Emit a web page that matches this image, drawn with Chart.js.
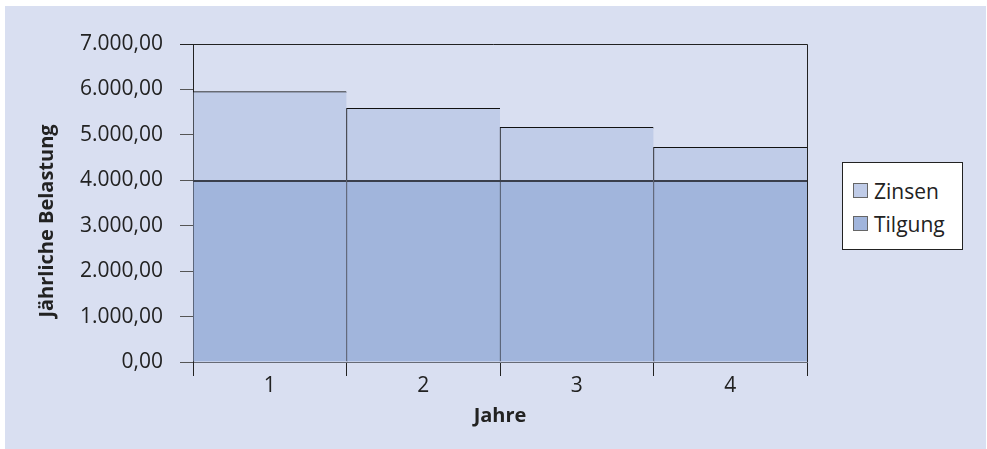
<!DOCTYPE html>
<html lang="de">
<head>
<meta charset="utf-8">
<title>Jährliche Belastung</title>
<script src="https://cdn.jsdelivr.net/npm/chart.js@4/dist/chart.umd.min.js"></script>
<style>
  html, body { margin: 0; padding: 0; background: #ffffff; }
  #wrap { position: relative; width: 987px; height: 449px; overflow: hidden; }
  #panel { position: absolute; left: 5px; top: 6px; width: 981px; height: 443px; background: #d9dff1; }
  #chart { position: absolute; left: 0; top: 0; }
  #legend {
    position: absolute; left: 842px; top: 162px; width: 121px; height: 88px;
    background: #ffffff; border: 1px solid #222; box-sizing: border-box;
    font-family: "Open Sans", sans-serif; font-size: 21px; color: #222;
    padding-top: 11px;
  }
  .item { display: flex; align-items: center; height: 33px; padding-left: 10px; }
  .swatch { width: 15px; height: 15px; border: 1px solid #666; box-sizing: border-box; margin-right: 6px; }
</style>
</head>
<body>
<div id="wrap">
  <div id="panel"></div>
  <canvas id="chart" width="987" height="449"></canvas>
  <div id="legend"></div>
</div>
<script>
// Jahre (Kategorien)
const years = ['1', '2', '3', '4'];
// Tilgung je Jahr
const tilgung = [4000, 4000, 4000, 4000];
// Zinsen je Jahr
const zinsen = [1950, 1585, 1165, 725];
// Achsenbereich
const yTicks = [0, 1000, 2000, 3000, 4000, 5000, 6000, 7000];
const yTitle = 'Jährliche Belastung';

const colTilgung = '#a1b5dc';
const colZinsen = '#c0cce8';
const ink = '#222222';

function formatDe(v) {
  const fixed = Math.abs(v).toFixed(2);
  let [intPart, dec] = fixed.split('.');
  intPart = intPart.replace(/\B(?=(\d{3})+(?!\d))/g, '.');
  return (v < 0 ? '-' : '') + intPart + ',' + dec;
}

// Rahmen oben und rechts um die Zeichenfläche, dazu der senkrechte Achsentitel
const frame = {
  id: 'frame',
  afterDatasetsDraw(chart) {
    const { ctx, chartArea: a } = chart;
    ctx.save();
    ctx.strokeStyle = ink;
    ctx.lineWidth = 1;
    ctx.beginPath();
    ctx.moveTo(a.left - 13, a.top + 0.5);
    ctx.lineTo(a.right + 0.5, a.top + 0.5);
    ctx.lineTo(a.right + 0.5, a.bottom);
    ctx.stroke();

    ctx.translate(47, a.top + (a.bottom - a.top) / 2 + 18);
    ctx.rotate(-Math.PI / 2);
    ctx.fillStyle = ink;
    ctx.font = 'bold 20px "Open Sans"';
    ctx.textAlign = 'center';
    ctx.textBaseline = 'middle';
    ctx.fillText(yTitle, 0, 0);
    ctx.restore();
  }
};

const chart = new Chart(document.getElementById('chart'), {
  type: 'bar',
  data: {
    labels: years,
    datasets: [
      {
        label: 'Tilgung',
        data: tilgung,
        backgroundColor: colTilgung,
        borderColor: '#3a3f4c',
        borderWidth: { top: 2, left: 1, right: 0, bottom: 0 },
        borderSkipped: false,
        barPercentage: 1,
        categoryPercentage: 1
      },
      {
        label: 'Zinsen',
        data: zinsen,
        backgroundColor: colZinsen,
        borderColor: '#111111',
        borderWidth: { top: 1, left: 1, right: 0, bottom: 0 },
        borderSkipped: false,
        barPercentage: 1,
        categoryPercentage: 1
      }
    ]
  },
  options: {
    responsive: false,
    animation: false,
    layout: { padding: { left: 0, top: 44, right: 180, bottom: 0 } },
    plugins: {
      legend: { display: false },
      tooltip: { enabled: false }
    },
    scales: {
      x: {
        stacked: true,
        offset: true,
        grid: { display: true, drawOnChartArea: false, offset: true, tickLength: 14, tickColor: ink, lineWidth: 1 },
        border: { display: true, color: '#666a75', width: 1 },
        ticks: { color: ink, padding: -3, font: { family: 'Open Sans', size: 21 } },
        title: { display: true, text: 'Jahre', color: ink, font: { family: 'Open Sans', size: 20, weight: 'bold' }, padding: { top: 0, bottom: 21 } },
        afterFit(scale) { scale.height = 87; scale.paddingLeft = 0; scale.paddingRight = 0; }
      },
      y: {
        stacked: true,
        min: 0,
        max: 7000,
        afterBuildTicks(scale) { scale.ticks = yTicks.map(v => ({ value: v })); },
        grid: { display: true, drawOnChartArea: false, tickLength: 13, tickColor: '#555', lineWidth: 1 },
        border: { display: true, color: ink, width: 1 },
        ticks: { color: ink, padding: 17, font: { family: 'Open Sans', size: 21 }, callback: v => formatDe(v) },
        title: { display: false },
        afterFit(scale) { scale.width = 193; scale.paddingTop = 0; scale.paddingBottom = 0; }
      }
    }
  },
  plugins: [frame]
});

// Legende: Zinsen oben, Tilgung unten
const legend = document.getElementById('legend');
[...chart.data.datasets].reverse().forEach(ds => {
  const item = document.createElement('div');
  item.className = 'item';
  const sw = document.createElement('span');
  sw.className = 'swatch';
  sw.style.background = ds.backgroundColor;
  const tx = document.createElement('span');
  tx.textContent = ds.label;
  item.appendChild(sw);
  item.appendChild(tx);
  legend.appendChild(item);
});
</script>
</body>
</html>
